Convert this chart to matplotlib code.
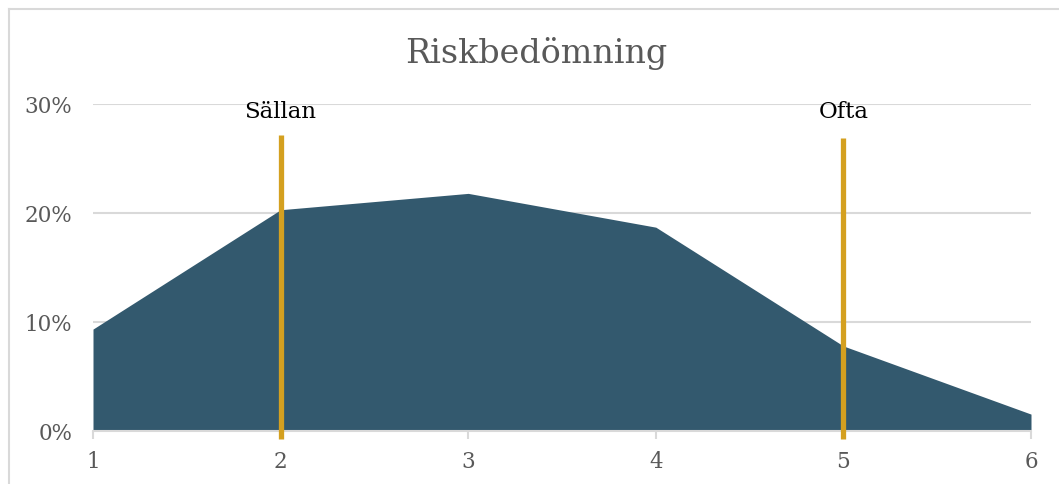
import matplotlib.pyplot as plt
from matplotlib.lines import Line2D
from matplotlib.ticker import PercentFormatter

plt.rcParams['font.family'] = ['DejaVu Serif']

steps = [1, 2, 3, 4, 5, 6]
andel = [0.0935, 0.203, 0.218, 0.187, 0.078, 0.0155]
y_ticks = [0, 0.10, 0.20, 0.30]

# markerade nivåer
markers = [2, 5]
marker_labels = ['Sällan', 'Ofta']
marker_tops = [0.272, 0.269]

W, H = 1059, 485
fig = plt.figure(figsize=(W / 100, H / 100), dpi=100)
ax = fig.add_axes([93 / W, 53 / H, 938 / W, 327 / H])

grid_c = '#d9d9d9'
text_c = '#595959'

ax.fill_between(steps, andel, 0, color='#33596e', lw=0, zorder=2)

for x, lab, top in zip(markers, marker_labels, marker_tops):
    ax.plot([x, x], [-0.0075, top], color='#d4a020', lw=3.8,
            solid_capstyle='butt', clip_on=False, zorder=4)
    ax.text(x, 0.2935, lab, ha='center', va='center', fontsize=16.5,
            color='black', zorder=5)

ax.set_xlim(1, 6)
ax.set_ylim(0, 0.30)
ax.set_xticks(steps)
ax.set_yticks(y_ticks)
ax.yaxis.set_major_formatter(PercentFormatter(1.0, decimals=0))
ax.grid(axis='y', color=grid_c, lw=1.5, zorder=1)
for s in ['top', 'right', 'left']:
    ax.spines[s].set_visible(False)
ax.spines['bottom'].set_color(grid_c)
ax.spines['bottom'].set_linewidth(1.5)
ax.spines['bottom'].set_zorder(3)
ax.tick_params(axis='x', length=6, width=1.5, color=grid_c, labelcolor=text_c,
               labelsize=15.5, pad=8)
ax.tick_params(axis='y', length=0, labelcolor=text_c, labelsize=15.5, pad=15)

fig.text(536 / W, 1 - 53 / H, 'Riskbedömning', ha='center', va='center',
         fontsize=24, color=text_c)

# ram runt diagrammet
fig.add_artist(Line2D([8.5 / W, 8.5 / W], [0, 1 - 9.5 / H], color=grid_c, lw=1.5))
fig.add_artist(Line2D([8.5 / W, 1], [1 - 9.5 / H, 1 - 9.5 / H], color=grid_c, lw=1.5))

fig.savefig('out.png', dpi=100)
